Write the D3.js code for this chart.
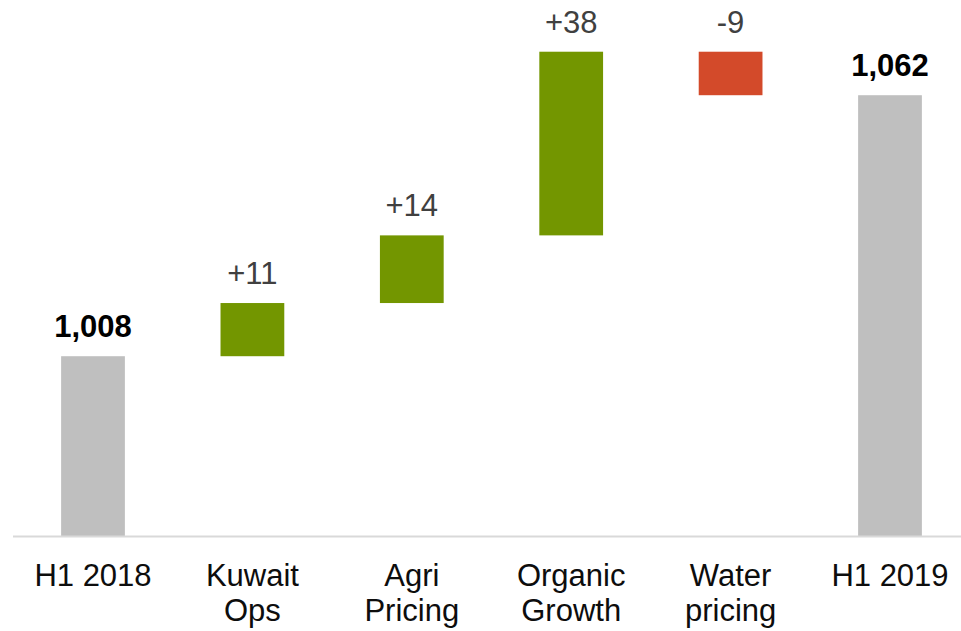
<!DOCTYPE html>
<html>
<head>
<meta charset="utf-8">
<script src="https://cdn.jsdelivr.net/npm/d3@7/dist/d3.min.js"></script>
<style>
  html, body { margin: 0; padding: 0; background: #ffffff; }
  svg { display: block; font-family: "Liberation Sans", Arial, Helvetica, sans-serif; }
</style>
</head>
<body>
<svg id="chart" width="961" height="631"></svg>
<script>
// Bridge from H1 2018 to H1 2019
const categories = ["H1 2018", "Kuwait Ops", "Agri Pricing", "Organic Growth", "Water pricing", "H1 2019"];
const categoryLines = [["H1 2018"], ["Kuwait", "Ops"], ["Agri", "Pricing"], ["Organic", "Growth"], ["Water", "pricing"], ["H1 2019"]];
const values = [1008, 11, 14, 38, -9, 1062];
const kinds = ["total", "delta", "delta", "delta", "delta", "total"];
// value axis is cut above zero so the changes stay readable
const axisFloor = 970.8;
const axisCeil = 1081.7;

const colors = { total: "#bfbfbf", up: "#739600", down: "#d34a2a" };

// running level for each step of the bridge
let level = 0;
const steps = categories.map((c, i) => {
  const v = values[i];
  let start, end;
  if (kinds[i] === "total") {
    start = axisFloor; end = v; level = v;
  } else {
    start = level; end = level + v; level = end;
  }
  return { cat: c, lines: categoryLines[i], value: v, kind: kinds[i], start, end };
});

const svg = d3.select("#chart");
const width = 961;
const baseY = 536;

const x = d3.scaleBand()
  .domain(categories)
  .range([13.3, 969.7])
  .paddingInner(0.6)
  .paddingOuter(0.3);

const y = d3.scaleLinear()
  .domain([axisFloor, axisCeil])
  .range([baseY, 0]);

// bars
svg.append("g").selectAll("rect")
  .data(steps)
  .join("rect")
  .attr("x", d => x(d.cat))
  .attr("width", x.bandwidth())
  .attr("y", d => y(Math.max(d.start, d.end)))
  .attr("height", d => Math.abs(y(d.start) - y(d.end)))
  .attr("fill", d => d.kind === "total" ? colors.total : (d.value >= 0 ? colors.up : colors.down));

// category axis line
svg.append("line")
  .attr("x1", 13).attr("x2", width)
  .attr("y1", baseY + 0.5).attr("y2", baseY + 0.5)
  .attr("stroke", "#d9d9d9")
  .attr("stroke-width", 2);

// category labels
const catLabels = svg.append("g").selectAll("text")
  .data(steps)
  .join("text")
  .attr("text-anchor", "middle")
  .attr("font-size", 31)
  .attr("fill", "#0d0d0d")
  .attr("transform", d => `translate(${x(d.cat) + x.bandwidth() / 2},586)`);
catLabels.selectAll("tspan")
  .data(d => d.lines)
  .join("tspan")
  .attr("x", 0)
  .attr("y", (d, i) => i * 35)
  .text(d => d);

// value labels above each bar
const fmtTotal = d3.format(",");
const fmtDelta = v => (v > 0 ? "+" : "") + v;
svg.append("g").selectAll("text")
  .data(steps)
  .join("text")
  .attr("text-anchor", "middle")
  .attr("font-size", 31)
  .attr("font-weight", d => d.kind === "total" ? "bold" : "normal")
  .attr("fill", d => d.kind === "total" ? "#000000" : "#404040")
  .attr("x", d => x(d.cat) + x.bandwidth() / 2)
  .attr("y", d => y(Math.max(d.start, d.end)) - 19)
  .text(d => d.kind === "total" ? fmtTotal(d.value) : fmtDelta(d.value));
</script>
</body>
</html>
